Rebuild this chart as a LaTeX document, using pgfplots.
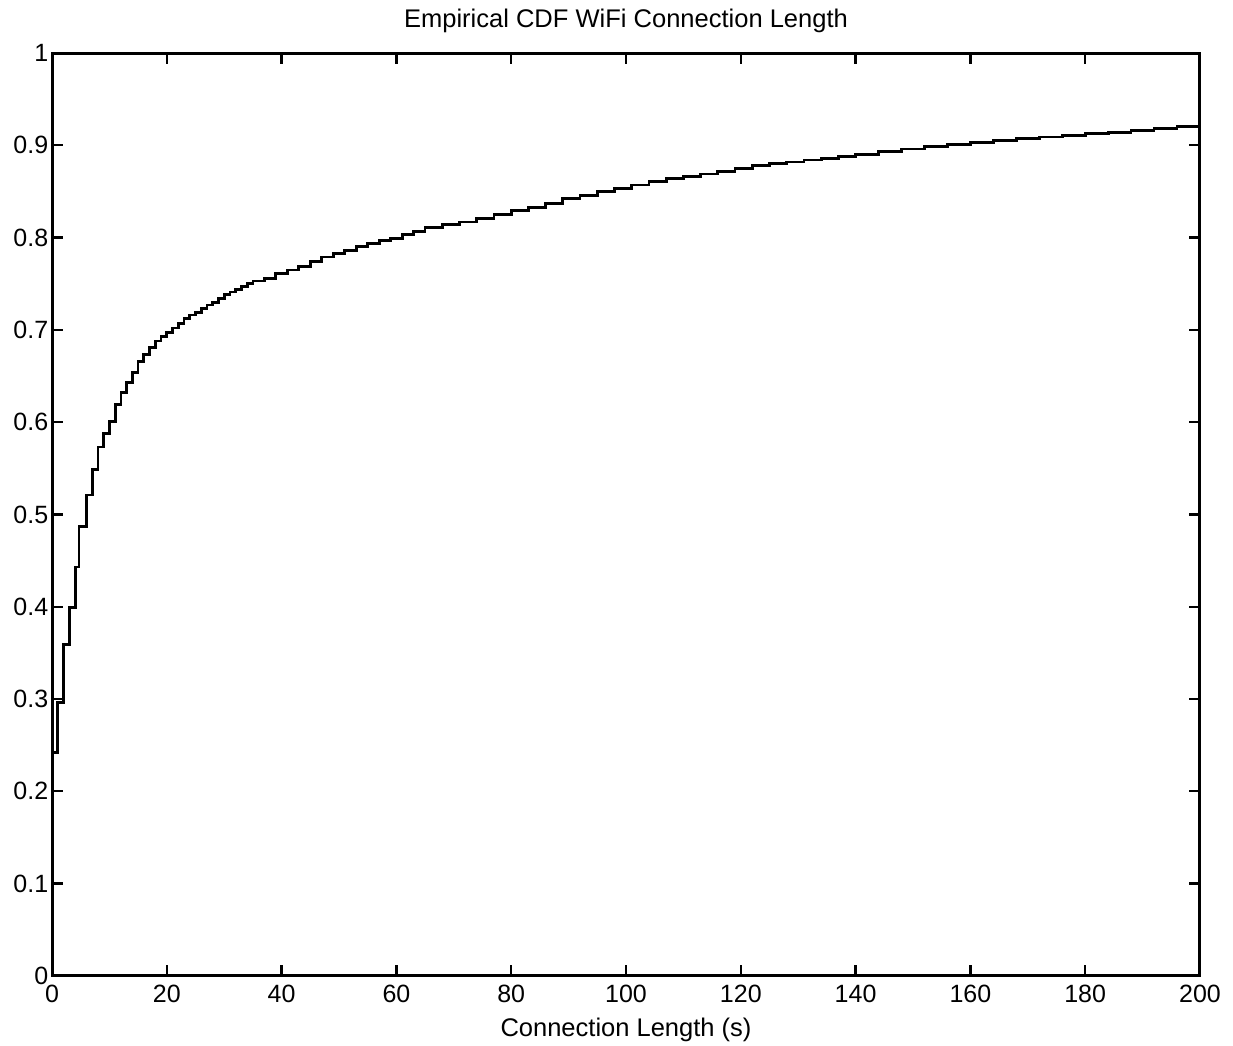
\documentclass[border=0pt]{standalone}
\usepackage{pgfplots}
\pgfplotsset{compat=1.18}
\usepackage{fontspec}
\setmainfont{Liberation Sans}
\begin{document}
\begin{tikzpicture}
\begin{axis}[
  name=ax,
  scale only axis,
  width=459pt, height=369pt,
  xmin=0, xmax=200, ymin=0, ymax=1,
  xtick={0,20,...,200},
  ytick={0,0.1,0.2,0.3,0.4,0.5,0.6,0.7,0.8,0.9,1},
  yticklabels={0,0.1,0.2,0.3,0.4,0.5,0.6,0.7,0.8,0.9,1},
  tick align=inside,
  major tick length=4.5pt,
  axis line style={line width=1.2pt},
  tick style={line width=0.9pt, black},
  tick label style={font=\fontsize{10}{11}\selectfont},
  /pgf/number format/assume math mode=true,
  yticklabel style={xshift=2pt},
  title={Empirical CDF WiFi Connection Length},
  title style={at={(axis description cs:0.5,1)}, anchor=base, yshift=4.4pt, font=\fontsize{10.2}{11}\selectfont},
  xlabel={Connection Length (s)},
  xlabel style={at={(axis description cs:0.5,0)}, anchor=base, yshift=-24.4pt, font=\fontsize{10.2}{11}\selectfont},
]
\addplot[const plot, black, line width=1.1pt] coordinates {
(0,0) (0,0.242) (1,0.296) (2,0.359) (3,0.399) (4.1,0.443) (4.7,0.487) (6,0.521) (7,0.549) (8,0.573) (9,0.588) (10,0.601) (11,0.619) (12,0.632) (13,0.643) (14,0.654) (15,0.666) (16,0.673) (17,0.681) (18,0.688) (19,0.693) (20,0.697) (21,0.702) (22,0.707) (23,0.712) (24,0.716) (25,0.719) (26,0.723) (27,0.727) (28,0.730) (29,0.734) (30,0.738) (31,0.741) (32,0.744) (33,0.747) (34,0.750) (35,0.753) (37,0.756) (39,0.761) (41,0.765) (43,0.769) (45,0.774) (47,0.779) (49,0.783) (51,0.786) (53,0.790) (55,0.794) (57,0.797) (59,0.799) (61,0.803) (63,0.807) (65,0.811) (68,0.814) (71,0.817) (74,0.821) (77,0.825) (80,0.829) (83,0.833) (86,0.837) (89,0.842) (92,0.846) (95,0.850) (98,0.853) (101,0.857) (104,0.861) (107,0.864) (110,0.866) (113,0.869) (116,0.872) (119,0.875) (122,0.878) (125,0.880) (128,0.882) (131,0.884) (134,0.886) (137,0.888) (140,0.890) (144,0.893) (148,0.896) (152,0.899) (156,0.901) (160,0.903) (164,0.905) (168,0.907) (172,0.909) (176,0.911) (180,0.913) (184,0.914) (188,0.916) (192,0.918) (196,0.920) (200,0.921)
};
\end{axis}
\pgfresetboundingbox
\path ([xshift=-20.8pt,yshift=-28pt]ax.south west) rectangle ([xshift=13.2pt,yshift=21.2pt]ax.north east);
\end{tikzpicture}
\end{document}
